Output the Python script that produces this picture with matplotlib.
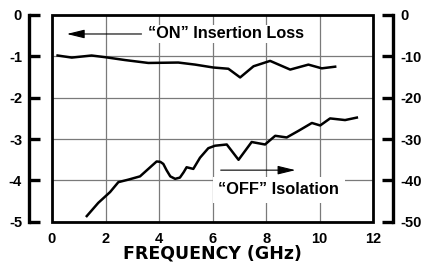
import numpy as np
import matplotlib.pyplot as plt
from matplotlib.patches import Rectangle

plt.rcParams['font.family'] = ['Liberation Sans', 'DejaVu Sans']
plt.rcParams['font.weight'] = 'bold'

# "ON" insertion loss (dB, left scale)
on_freq = [0.21, 0.74, 1.48, 1.98, 2.73, 3.6, 4.72, 5.35, 6.03, 6.59, 7.03, 7.53,
           8.15, 8.9, 9.58, 10.08, 10.58]
on_loss = [-0.98, -1.03, -0.98, -1.02, -1.09, -1.16, -1.15, -1.20, -1.27, -1.30,
           -1.51, -1.24, -1.11, -1.32, -1.20, -1.29, -1.25]

# "OFF" isolation (dB, right scale)
off_freq = [1.30, 1.73, 2.17, 2.48, 2.85, 3.29, 3.60, 3.91, 4.05, 4.16, 4.28, 4.42,
            4.6, 4.78, 4.92, 5.03, 5.28, 5.53, 5.84, 6.09, 6.53, 6.97, 7.46,
            7.96, 8.34, 8.77, 9.21, 9.71, 10.02, 10.39, 10.95, 11.39]
off_iso = [-48.6, -45.4, -42.8, -40.4, -39.8, -39.0, -37.2, -35.4, -35.5, -36.0,
           -37.5, -39.0, -39.6, -39.3, -38.0, -36.8, -37.2, -34.5, -32.2, -31.6,
           -31.3, -35.0, -30.7, -31.3, -29.2, -29.6, -28.0, -26.1, -26.7, -25.0,
           -25.4, -24.8]

x_ticks = [0, 2, 4, 6, 8, 10, 12]
left_ticks = [0, -1, -2, -3, -4, -5]
right_ticks = [0, -10, -20, -30, -40, -50]

fig = plt.figure(figsize=(4.26, 2.67), dpi=100)
ax = fig.add_axes([0.122, 0.169, 0.754, 0.775])
ax.set_xlim(0, 12)
ax.set_ylim(-5, 0)

for s in ['top', 'right', 'bottom']:
    ax.spines[s].set_visible(False)
ax.spines['left'].set_position(('outward', 16.5))
ax.spines['left'].set_linewidth(2.4)
ax.add_patch(Rectangle((0, 0), 1, 1, transform=ax.transAxes, fill=False,
                       lw=2, ec='black', clip_on=False, zorder=5))

ax.set_xticks(x_ticks)
ax.set_xticklabels([str(t) for t in x_ticks])
ax.set_yticks(left_ticks)
ax.set_yticklabels([str(t) for t in left_ticks])
ax.tick_params(axis='x', length=0, pad=7, labelsize=10.5)
ax.tick_params(axis='y', direction='in', length=8, width=2.4, pad=5, labelsize=10.5)
ax.grid(True, color='#7a7a7a', lw=0.9)
ax.set_xlabel('FREQUENCY (GHz)', fontsize=12.5, fontweight='bold', labelpad=-0.5,
              family='DejaVu Sans')

ax.plot(on_freq, on_loss, color='black', lw=1.8, zorder=4)

axr = ax.twinx()
axr.set_ylim(-50, 0)
for s in ['top', 'left', 'bottom']:
    axr.spines[s].set_visible(False)
axr.spines['right'].set_position(('outward', 14.4))
axr.spines['right'].set_linewidth(2.4)
axr.set_yticks(right_ticks)
axr.set_yticklabels([str(t) for t in right_ticks])
axr.tick_params(axis='y', direction='in', length=8, width=2.4, pad=5, labelsize=10.5)
axr.plot(off_freq, off_iso, color='black', lw=1.8, zorder=4)

arrow_style = '-|>,head_length=0.9,head_width=0.22'
ax.text(3.59, -0.46, '\u201cON\u201d Insertion Loss', fontsize=11.7, fontweight='bold',
        va='center', ha='left', zorder=6,
        bbox=dict(facecolor='white', edgecolor='none', pad=1))
ax.annotate('', xy=(0.45, -0.46), xytext=(3.45, -0.46),
            arrowprops=dict(arrowstyle=arrow_style, color='black', lw=0.8,
                            mutation_scale=12))
ax.text(6.21, -4.22, '\u201cOFF\u201d Isolation', fontsize=11.8, fontweight='bold',
        va='center', ha='left', zorder=6,
        bbox=dict(facecolor='white', edgecolor='none', pad=4))
ax.annotate('', xy=(9.2, -3.75), xytext=(6.2, -3.75),
            arrowprops=dict(arrowstyle=arrow_style, color='black', lw=0.8,
                            mutation_scale=12))

fig.savefig('out.png', dpi=100)
